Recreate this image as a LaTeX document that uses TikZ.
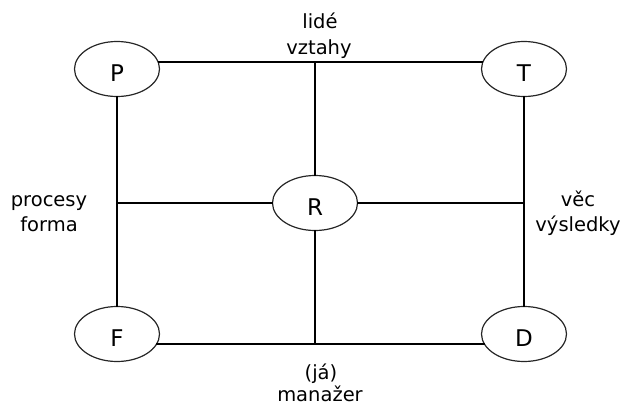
\documentclass[tikz,border=0pt]{standalone}
\usepackage{fontspec}
\setmainfont{DejaVu Sans}
\usetikzlibrary{shapes.geometric}
\begin{document}
\begin{tikzpicture}[x=1pt,y=-1pt,
  ell/.style={ellipse, draw=black!85, line width=1.2pt, minimum width=85pt, minimum height=55pt, inner sep=0pt},
  conn/.style={line width=1.9pt, line cap=rect},
  lbl/.style={font=\fontsize{23}{23}\selectfont, inner sep=0pt},
  txt/.style={font=\fontsize{19.5}{19.5}\selectfont, inner sep=0pt, anchor=base}]
\useasboundingbox (0,0) rectangle (621,407);
% ellipses
\node[ell] (P) at (117,69) {};
\node[ell] (T) at (524,69) {};
\node[ell] (R) at (315,203) {};
\node[ell] (F) at (117,334) {};
\node[ell] (D) at (524,334) {};
% ellipse labels
\node[lbl] (Pl) at ([yshift=-4.5pt]P.center) {P};
\node[lbl] (Tl) at ([yshift=-4.5pt]T.center) {T};
\node[lbl] (Rl) at ([yshift=-4.5pt]R.center) {R};
\node[lbl] (Fl) at ([yshift=-4.5pt]F.center) {F};
\node[lbl] (Dl) at ([yshift=-4.5pt]D.center) {D};
% helper coordinates
\coordinate (topmid) at (R |- P.10);
\coordinate (botmid) at ([yshift=1.5pt]R |- F.-14);
\coordinate (leftmid) at (P |- R);
\coordinate (rightmid) at (T |- R);
% connectors
\draw[conn] (P.10) -- (T.170);
\draw[conn] (F.-14) -- (D.194);
\draw[conn] (P.south) -- (F.north);
\draw[conn] (T.south) -- (D.north);
\draw[conn] (topmid) -- (R.north);
\draw[conn] (R.south) -- (botmid);
\draw[conn] (leftmid) -- (R.west);
\draw[conn] (R.east) -- (rightmid);
% texts
\node[txt] (t1) at (320,28) {lidé};
\node[txt] (t2) at (319,54) {vztahy};
\node[txt] (t3) at (49,206) {procesy};
\node[txt] (t4) at (49,231) {forma};
\node[txt] (t5) at (578,206) {věc};
\node[txt] (t6) at (578,231) {výsledky};
\node[txt] (t7) at (321,379) {(já)};
\node[txt] (t8) at (320,401) {manažer};
\end{tikzpicture}
\end{document}
